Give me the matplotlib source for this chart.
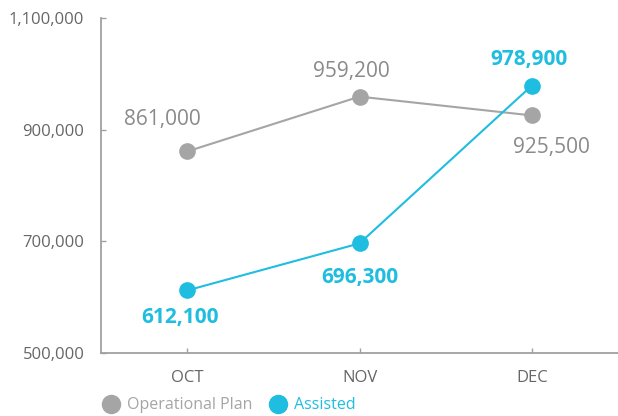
import numpy as np
import matplotlib.pyplot as plt
from matplotlib.lines import Line2D

plt.rcParams['font.family'] = ['Open Sans', 'DejaVu Sans']

months = ['OCT', 'NOV', 'DEC']
plan = [861000, 959200, 925500]
assisted = [612100, 696300, 978900]

gray = '#a5a5a5'
blue = '#1fbde0'
txt = '#666666'

fig = plt.figure(figsize=(6.18, 4.16), dpi=100)
ax = fig.add_axes([101/618, 63/416, 1 - 101/618, (353 - 18)/416])

x = np.arange(len(months))
ax.plot(x, plan, color=gray, lw=1.5, marker='o', ms=11, zorder=3)
ax.plot(x, assisted, color=blue, lw=1.5, marker='o', ms=11, zorder=4)

# value labels
plan_off = [(-18, 23), (-6, 18), (14, -23)]
for xi, v, (dx, dy) in zip(x, plan, plan_off):
    ax.annotate(f'{v:,}', (xi, v), xytext=(dx, dy), textcoords='offset points',
                ha='center', va='center', fontsize=15, color='#8a8a8a')
asst_off = [(-5, -19.5), (0, -24.5), (-2, 19)]
for xi, v, (dx, dy) in zip(x, assisted, asst_off):
    ax.annotate(f'{v:,}', (xi, v), xytext=(dx, dy), textcoords='offset points',
                ha='center', va='center', fontsize=15, color=blue, fontweight='bold')

ax.set_xlim(-0.5, 2.5)
ax.set_ylim(500000, 1100000)
ax.set_xticks(x)
ax.set_xticklabels(months)
ax.set_yticks([500000, 700000, 900000, 1100000])
ax.yaxis.set_major_formatter(plt.FuncFormatter(lambda v, p: f'{int(v):,}'))
ax.tick_params(colors='#a0a0a0', labelcolor=txt, labelsize=12, direction='in',
               length=3.5, width=1)
ax.tick_params(axis='y', pad=12)
ax.tick_params(axis='x', pad=12)
for s in ['top', 'right']:
    ax.spines[s].set_visible(False)
for s in ['left', 'bottom']:
    ax.spines[s].set_color('#a0a0a0')
    ax.spines[s].set_linewidth(1.3)

handles = [Line2D([], [], ls='', marker='o', ms=13, color=gray),
           Line2D([], [], ls='', marker='o', ms=13, color=blue)]
leg = fig.legend(handles, ['Operational Plan', 'Assisted'], loc='lower left',
                 bbox_to_anchor=(87/618, -0.028), ncol=2, frameon=False,
                 fontsize=11.5, handletextpad=0.4, columnspacing=1.0, handlelength=1.2)
for t, c in zip(leg.get_texts(), [gray, blue]):
    t.set_color(c)

fig.savefig('out.png', dpi=100)
